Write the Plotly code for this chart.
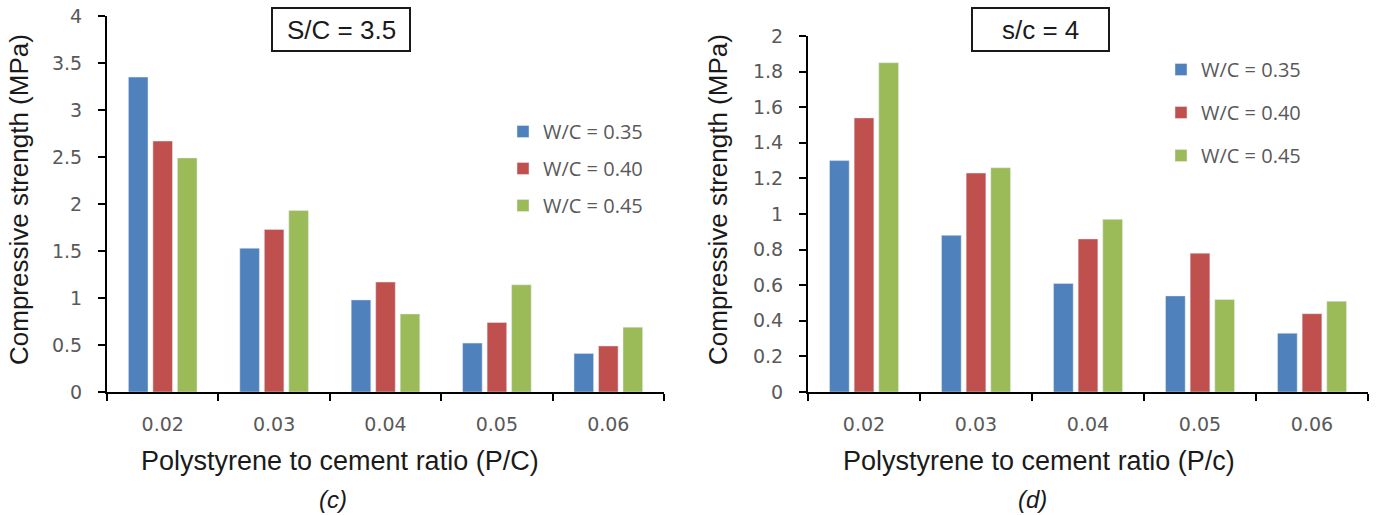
import plotly.graph_objects as go

W, H = 1378, 515

categories = ["0.02", "0.03", "0.04", "0.05", "0.06"]
series_names = ["W/C = 0.35", "W/C = 0.40", "W/C = 0.45"]
colors = ["#4F81BD", "#C0504D", "#9BBB59"]

# Panel (c): S/C = 3.5
left_wc035 = [3.35, 1.53, 0.98, 0.52, 0.41]
left_wc040 = [2.67, 1.73, 1.17, 0.74, 0.49]
left_wc045 = [2.49, 1.93, 0.83, 1.14, 0.69]

# Panel (d): s/c = 4
right_wc035 = [1.30, 0.88, 0.61, 0.54, 0.33]
right_wc040 = [1.54, 1.23, 0.86, 0.78, 0.44]
right_wc045 = [1.85, 1.26, 0.97, 0.52, 0.51]

left_title = "S/C = 3.5"
right_title = "s/c = 4"
y_title = "Compressive strength (MPa)"
left_xtitle = "Polystyrene to cement ratio (P/C)"
right_xtitle = "Polystyrene to cement ratio (P/c)"
left_label = "(c)"
right_label = "(d)"


def px(x):
    return x / W


def py(y):
    return 1 - y / H


fig = go.Figure()

left_sets = [left_wc035, left_wc040, left_wc045]
right_sets = [right_wc035, right_wc040, right_wc045]

for i, (name, vals) in enumerate(zip(series_names, left_sets)):
    fig.add_trace(go.Bar(x=categories, y=vals, name=name, marker_color=colors[i],
                         xaxis="x", yaxis="y", legend="legend", legendgroup=f"L{i}"))
for i, (name, vals) in enumerate(zip(series_names, right_sets)):
    fig.add_trace(go.Bar(x=categories, y=vals, name=name, marker_color=colors[i],
                         xaxis="x2", yaxis="y2", legend="legend2", legendgroup=f"R{i}"))

tick_font_x = dict(family="DejaVu Sans", size=19, color="#595959")
tick_font_y = dict(family="DejaVu Sans", size=19, color="#595959")
axis_common = dict(showgrid=False, zeroline=False, showline=True, linecolor="black",
                   linewidth=2, ticks="outside", tickcolor="black", tickwidth=2,
                   ticklen=7, automargin=False)

fig.update_layout(
    width=W, height=H,
    margin=dict(l=0, r=0, t=0, b=0, pad=0, autoexpand=False),
    paper_bgcolor="white", plot_bgcolor="white",
    barmode="group", bargap=0.34, bargroupgap=0.2,
    xaxis=dict(domain=[px(107), px(664)], anchor="y", type="category",
               tickson="boundaries", tickfont=tick_font_x, ticklabelstandoff=14,
               **axis_common),
    yaxis=dict(domain=[py(392), py(16)], anchor="x", range=[0, 4], dtick=0.5,
               tickfont=tick_font_y, ticklabelstandoff=12, **axis_common),
    xaxis2=dict(domain=[px(808), px(1368)], anchor="y2", type="category",
                tickson="boundaries", tickfont=tick_font_x, ticklabelstandoff=14,
                **axis_common),
    yaxis2=dict(domain=[py(392), py(36)], anchor="x2", range=[0, 2], dtick=0.2,
                tickfont=tick_font_y, ticklabelstandoff=12, **axis_common),
    legend=dict(x=px(503), y=py(112), xanchor="left", yanchor="top",
                font=dict(family="Open Sans", size=20, color="#595959"),
                bgcolor="rgba(0,0,0,0)", tracegroupgap=8),
    legend2=dict(x=px(1161), y=py(50), xanchor="left", yanchor="top",
                 font=dict(family="Open Sans", size=20, color="#595959"),
                 bgcolor="rgba(0,0,0,0)", tracegroupgap=14),
    showlegend=True,
)

# Title boxes
for (x0, x1) in [(272, 410), (972, 1109)]:
    fig.add_shape(type="rect", xref="paper", yref="paper",
                  x0=px(x0), x1=px(x1), y0=py(51), y1=py(8),
                  line=dict(color="#1a1a1a", width=2), fillcolor="white", layer="above")

title_font = dict(family="Liberation Sans, Arial", size=26, color="#1a1a1a")
xtitle_font = dict(family="Liberation Sans, Arial", size=27, color="#1a1a1a")
ytitle_font = dict(family="Liberation Sans, Arial", size=26, color="#1a1a1a")
label_font = dict(family="Liberation Sans, Arial", size=24, color="#1a1a1a")

anns = [
    dict(text=left_title, x=px(341), y=py(30), font=title_font),
    dict(text=right_title, x=px(1040), y=py(30), font=title_font),
    dict(text=y_title, x=px(19), y=py(200), font=ytitle_font, textangle=-90),
    dict(text=y_title, x=px(718), y=py(200), font=ytitle_font, textangle=-90),
    dict(text=left_xtitle, x=px(340), y=py(461), font=xtitle_font),
    dict(text=right_xtitle, x=px(1039), y=py(461), font=xtitle_font),
    dict(text=f"<i>{left_label}</i>", x=px(333), y=py(499), font=label_font),
    dict(text=f"<i>{right_label}</i>", x=px(1032), y=py(499), font=label_font),
]
for a in anns:
    fig.add_annotation(xref="paper", yref="paper", xanchor="center", yanchor="middle",
                       showarrow=False, **a)

fig.write_html("out.html")
